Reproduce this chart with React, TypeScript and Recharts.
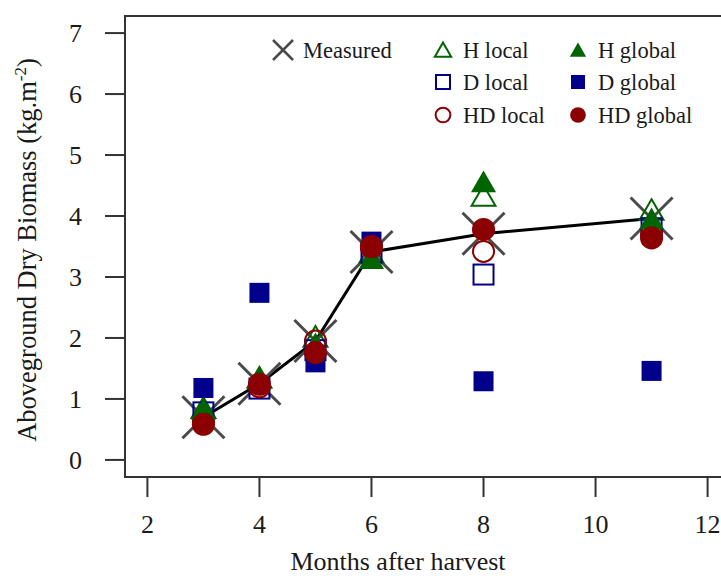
import React from "react";
import { ComposedChart, XAxis, YAxis, Scatter, Line, ReferenceArea } from "recharts";

const months = [3, 4, 5, 6, 8, 11];
const measured = [0.7, 1.25, 1.95, 3.41, 3.71, 3.96];
const hLocal = [0.8, 1.3, 1.97, 3.35, 4.28, 4.05];
const dLocal = [0.78, 1.17, 1.8, 3.4, 3.04, 3.8];
const hdLocal = [0.62, 1.2, 1.95, 3.48, 3.42, 3.7];
const hGlobal = [0.78, 1.28, 1.85, 3.25, 4.51, 3.9];
const dGlobal = [1.18, 2.74, 1.6, 3.58, 1.29, 1.46];
const hdGlobal = [0.585, 1.24, 1.76, 3.5, 3.78, 3.64];

const xTicks = [2, 4, 6, 8, 10, 12];
const yTicks = [0, 1, 2, 3, 4, 5, 6, 7];

const data = months.map((m, i) => ({
  month: m,
  measured: measured[i],
  hLocal: hLocal[i],
  dLocal: dLocal[i],
  hdLocal: hdLocal[i],
  hGlobal: hGlobal[i],
  dGlobal: dGlobal[i],
  hdGlobal: hdGlobal[i],
}));

const GREEN = "#006400";
const BLUE = "#00008b";
const RED = "#8b0000";
const FONT = '"Liberation Serif", "Times New Roman", serif';

type Kind = "cross" | "tri" | "square" | "circle";

// size = R-ish radius; big for points, small in the legend
function Marker({ kind, cx, cy, color, filled, size }: any) {
  if (kind === "cross") {
    const a = size;
    return (
      <g stroke="#4a4a4a" strokeWidth={size > 15 ? 3 : 2.5}>
        <line x1={cx - a} y1={cy - a} x2={cx + a} y2={cy + a} />
        <line x1={cx - a} y1={cy + a} x2={cx + a} y2={cy - a} />
      </g>
    );
  }
  const fill = filled ? color : "none";
  const stroke = color;
  const sw = filled ? 0 : 2;
  if (kind === "tri") {
    const r = size * 1.45;
    const pts = `${cx},${cy - r} ${cx + 0.866 * r},${cy + r / 2} ${cx - 0.866 * r},${cy + r / 2}`;
    return <polygon points={pts} fill={fill} stroke={stroke} strokeWidth={sw} />;
  }
  if (kind === "square") {
    const h = size;
    return <rect x={cx - h} y={cy - h} width={2 * h} height={2 * h} fill={fill} stroke={stroke} strokeWidth={sw} />;
  }
  return <circle cx={cx} cy={cy} r={filled ? size * 1.12 : size * 1.05} fill={fill} stroke={stroke} strokeWidth={sw} />;
}

const shapeOf = (kind: Kind, color: string, filled: boolean, size: number) => (p: any) =>
  <Marker kind={kind} cx={p.cx} cy={p.cy} color={color} filled={filled} size={size} />;

const legendItems = [
  { label: "Measured", kind: "cross", color: "#333", filled: false, x: 283, y: 50 },
  { label: "H local", kind: "tri", color: GREEN, filled: false, x: 443, y: 50 },
  { label: "D local", kind: "square", color: BLUE, filled: false, x: 443, y: 82 },
  { label: "HD local", kind: "circle", color: RED, filled: false, x: 443, y: 115 },
  { label: "H global", kind: "tri", color: GREEN, filled: true, x: 578, y: 50 },
  { label: "D global", kind: "square", color: BLUE, filled: true, x: 578, y: 82 },
  { label: "HD global", kind: "circle", color: RED, filled: true, x: 578, y: 115 },
];

function Overlay() {
  return (
    <svg
      width={721}
      height={576}
      style={{ position: "absolute", left: 0, top: 0, pointerEvents: "none" }}
    >
      {legendItems.map((it) => (
        <g key={it.label}>
          <Marker
            kind={it.kind}
            cx={it.x}
            cy={it.y + (it.kind === "tri" ? 2 : 0)}
            color={it.color}
            filled={it.filled}
            size={it.kind === "cross" ? 10 : it.kind === "tri" ? 6.5 : 7}
          />
          <text x={it.x + 20} y={it.y + 7.5} fontFamily={FONT} fontSize={22.5} fill="#1a1a1a">
            {it.label}
          </text>
        </g>
      ))}
      <text x={398} y={570} textAnchor="middle" fontFamily={FONT} fontSize={26} fill="#1a1a1a">
        Months after harvest
      </text>
      <text
        transform="translate(36, 250) rotate(-90)"
        textAnchor="middle"
        fontFamily={FONT}
        fontSize={26.5}
        fill="#1a1a1a"
      >
        Aboveground Dry Biomass (kg.m
        <tspan fontSize={17} dy={-10}>-2</tspan>
        <tspan dy={10}>)</tspan>
      </text>
    </svg>
  );
}

const tickStyle = { fontFamily: FONT, fontSize: 26, fill: "#1a1a1a" };

export default function App() {
  return (
    <div
      style={{
        position: "absolute",
        left: 0,
        top: 0,
        width: 721,
        height: 576,
        overflow: "hidden",
        background: "#fff",
      }}
    >
      <ComposedChart
        width={760}
        height={576}
        data={data}
        margin={{ top: 16, right: 30, bottom: 0, left: 0 }}
      >
        <XAxis
          dataKey="month"
          type="number"
          domain={[1.6, 12.4]}
          allowDataOverflow
          ticks={xTicks}
          tick={tickStyle}
          tickSize={20}
          tickMargin={18}
          tickLine={{ stroke: "#333", strokeWidth: 2 }}
          axisLine={false}
          height={99}
          interval={0}
        />
        <YAxis
          type="number"
          domain={[-0.28, 7.28]}
          allowDataOverflow
          ticks={yTicks}
          tick={tickStyle}
          tickSize={20}
          tickMargin={23}
          tickLine={{ stroke: "#333", strokeWidth: 2 }}
          axisLine={false}
          width={125}
          interval={0}
        />
        <ReferenceArea
          x1={1.6}
          x2={12.4}
          y1={-0.28}
          y2={7.28}
          fill="none"
          fillOpacity={0}
          stroke="#333"
          strokeWidth={2}
          ifOverflow="visible"
        />
        <Scatter dataKey="measured" shape={shapeOf("cross", "#444", false, 21)} isAnimationActive={false} />
        <Line
          dataKey="measured"
          type="linear"
          stroke="#000"
          strokeWidth={3}
          dot={false}
          activeDot={false}
          isAnimationActive={false}
        />
        <Scatter dataKey="hLocal" shape={shapeOf("tri", GREEN, false, 9.5)} isAnimationActive={false} />
        <Scatter dataKey="dLocal" shape={shapeOf("square", BLUE, false, 10)} isAnimationActive={false} />
        <Scatter dataKey="hdLocal" shape={shapeOf("circle", RED, false, 10)} isAnimationActive={false} />
        <Scatter dataKey="hGlobal" shape={shapeOf("tri", GREEN, true, 10)} isAnimationActive={false} />
        <Scatter dataKey="dGlobal" shape={shapeOf("square", BLUE, true, 10)} isAnimationActive={false} />
        <Scatter dataKey="hdGlobal" shape={shapeOf("circle", RED, true, 10.3)} isAnimationActive={false} />
      </ComposedChart>
      <Overlay />
    </div>
  );
}
